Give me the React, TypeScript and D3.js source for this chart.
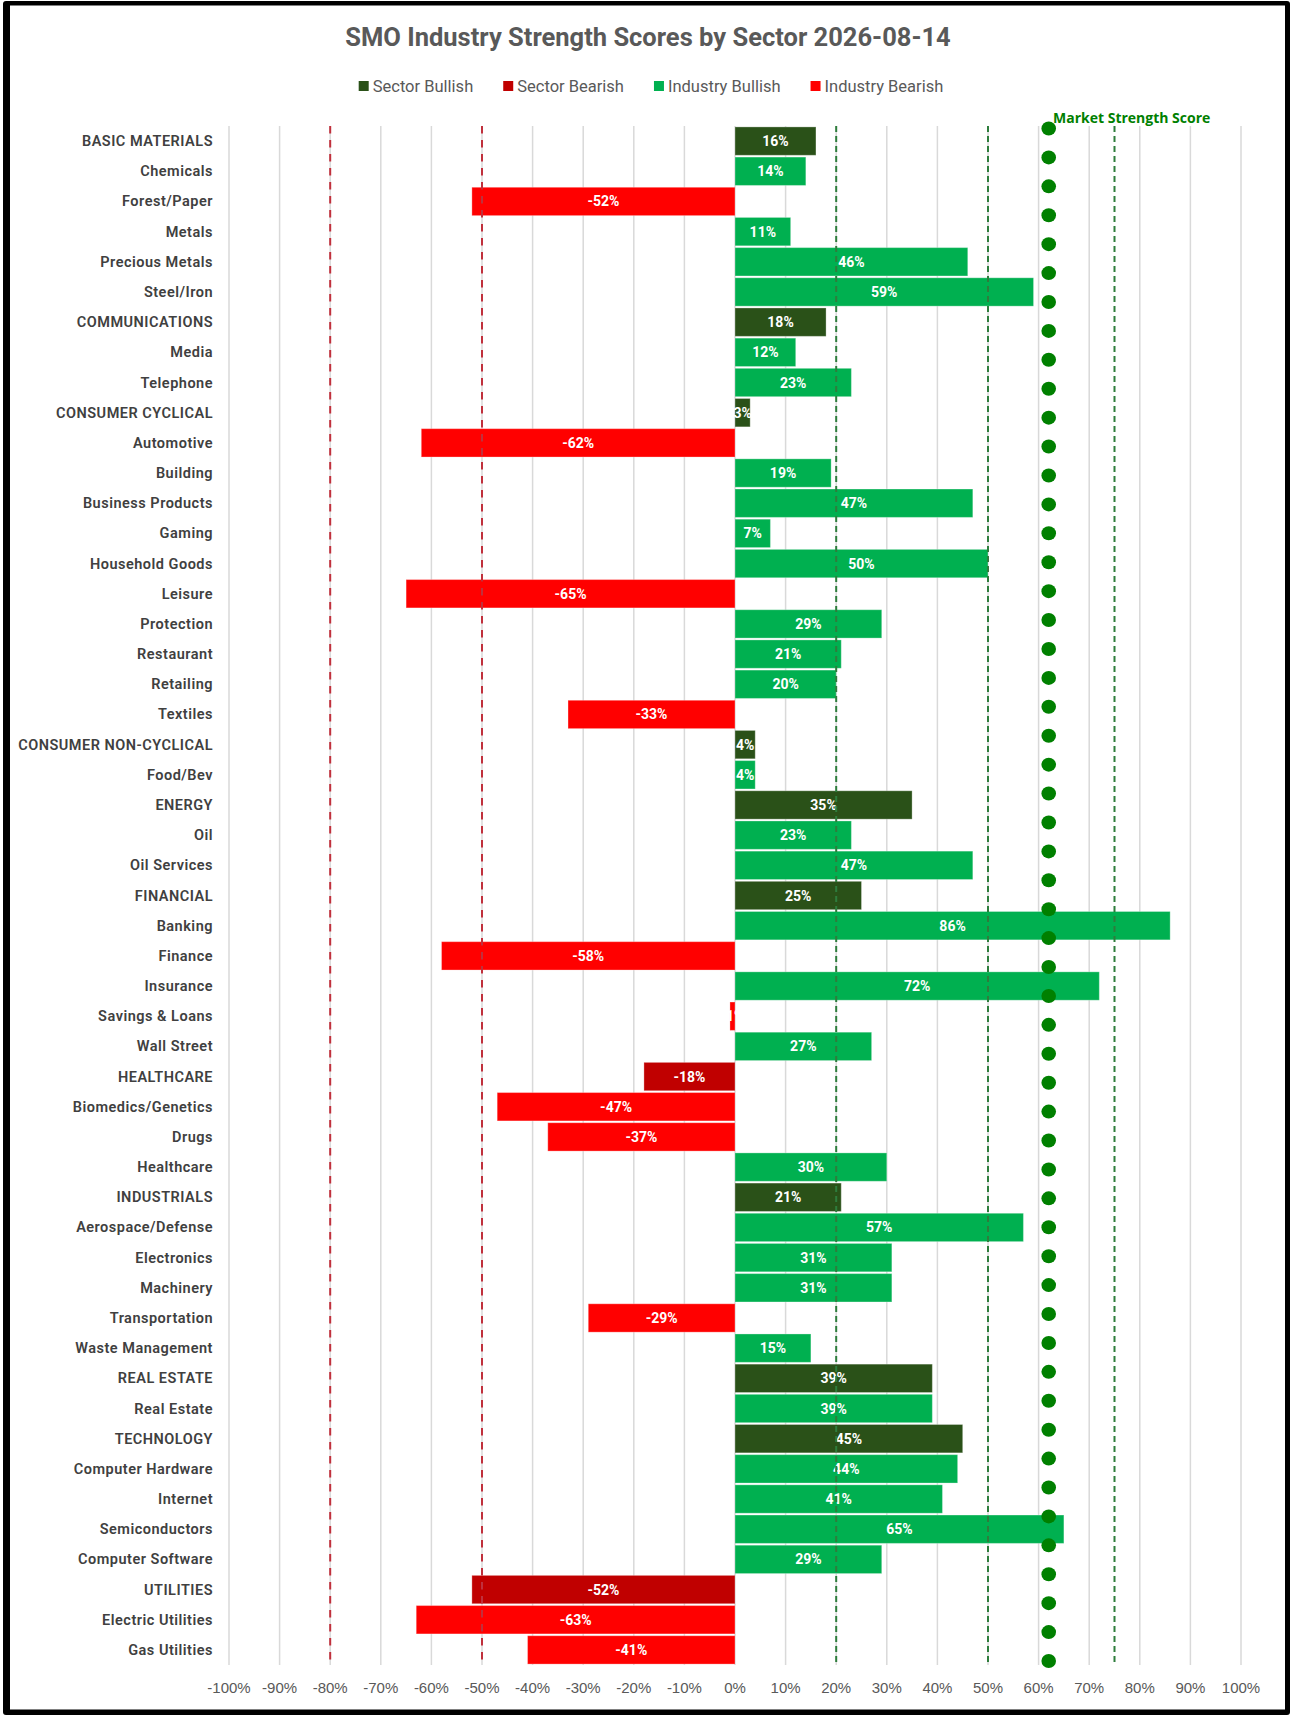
import React, { useEffect, useRef } from 'react';
import * as d3 from 'd3';

const categories = [
  'BASIC MATERIALS', 'Chemicals', 'Forest/Paper', 'Metals', 'Precious Metals', 'Steel/Iron',
  'COMMUNICATIONS', 'Media', 'Telephone',
  'CONSUMER CYCLICAL', 'Automotive', 'Building', 'Business Products', 'Gaming', 'Household Goods',
  'Leisure', 'Protection', 'Restaurant', 'Retailing', 'Textiles',
  'CONSUMER NON-CYCLICAL', 'Food/Bev',
  'ENERGY', 'Oil', 'Oil Services',
  'FINANCIAL', 'Banking', 'Finance', 'Insurance', 'Savings & Loans', 'Wall Street',
  'HEALTHCARE', 'Biomedics/Genetics', 'Drugs', 'Healthcare',
  'INDUSTRIALS', 'Aerospace/Defense', 'Electronics', 'Machinery', 'Transportation', 'Waste Management',
  'REAL ESTATE', 'Real Estate',
  'TECHNOLOGY', 'Computer Hardware', 'Internet', 'Semiconductors', 'Computer Software',
  'UTILITIES', 'Electric Utilities', 'Gas Utilities',
];

// scores in percent, same order as categories
const scores = [
  16, 14, -52, 11, 46, 59,
  18, 12, 23,
  3, -62, 19, 47, 7, 50, -65, 29, 21, 20, -33,
  4, 4,
  35, 23, 47,
  25, 86, -58, 72, -1, 27,
  -18, -47, -37, 30,
  21, 57, 31, 31, -29, 15,
  39, 39,
  45, 44, 41, 65, 29,
  -52, -63, -41,
];

const legendNames = ['Sector Bullish', 'Sector Bearish', 'Industry Bullish', 'Industry Bearish'];
const legendColors = ['#2A5118', '#C00000', '#00B050', '#FF0000'];

const xTicks = [-1, -0.9, -0.8, -0.7, -0.6, -0.5, -0.4, -0.3, -0.2, -0.1, 0, 0.1, 0.2, 0.3, 0.4, 0.5, 0.6, 0.7, 0.8, 0.9, 1];
const bearLines = [-0.8, -0.5];
const bullLines = [0.2, 0.5, 0.75];

const marketScore = 0.62;
const marketPoints = d3.range(54); // dot index along the secondary axis

const W = 1294;
const H = 1718;

// excel style: plain hyphen for negatives
const pct = d3.formatLocale({
  decimal: '.', thousands: ',', grouping: [3], currency: ['', ''], minus: '-',
}).format('.0%');

const App: React.FC = () => {
  const svgRef = useRef<SVGSVGElement>(null);

  useEffect(() => {
    if (!svgRef.current) return;
    const svg = d3.select(svgRef.current);
    svg.selectAll('*').remove();

    // frame
    svg.append('rect').attr('x', 3).attr('y', 1).attr('width', 1287).attr('height', 1714)
      .attr('rx', 3).attr('fill', '#000');
    svg.append('rect').attr('x', 10).attr('y', 5.5).attr('width', 1275).attr('height', 1704)
      .attr('fill', '#fff');

    const top = 126, bottom = 1665;
    const x = d3.scaleLinear().domain([-1, 1]).range([229, 1241]);
    const y = d3.scaleBand<string>().domain(categories).range([top, bottom])
      .paddingInner(0.06).paddingOuter(0.03);
    const yDots = d3.scaleLinear().domain([0, 53]).range([128.5, 1661]);

    // title
    svg.append('text')
      .attr('x', 648).attr('y', 46)
      .attr('text-anchor', 'middle')
      .style('font-family', 'Roboto, sans-serif')
      .style('font-weight', 700)
      .style('font-size', '25.5px')
      .attr('fill', '#595959')
      .text('SMO Industry Strength Scores by Sector 2026-08-14');

    // legend
    const legend = svg.append('g');
    const gap = 30;
    let lx = 0;
    legendNames.forEach((name, i) => {
      const item = legend.append('g').attr('transform', `translate(${lx},0)`);
      item.append('rect').attr('x', 0).attr('y', -5).attr('width', 10).attr('height', 10)
        .attr('fill', legendColors[i]);
      const t = item.append('text').attr('x', 14).attr('y', 6)
        .style('font-family', 'Roboto, sans-serif').style('font-size', '16.5px')
        .attr('fill', '#595959').text(name);
      const w = (t.node() as SVGTextElement).getComputedTextLength();
      lx += 14 + w + gap;
    });
    const legendW = lx - gap;
    legend.attr('transform', `translate(${651 - legendW / 2},86)`);

    // gridlines
    svg.append('g').selectAll('line').data(xTicks).enter().append('line')
      .attr('x1', d => x(d)).attr('x2', d => x(d))
      .attr('y1', top).attr('y2', bottom)
      .attr('stroke', '#D9D9D9').attr('stroke-width', 1.5);

    // category labels
    svg.append('g').selectAll('text').data(categories).enter().append('text')
      .attr('x', 213)
      .attr('y', d => (y(d) ?? 0) + y.bandwidth() / 2 + 5)
      .attr('text-anchor', 'end')
      .style('font-family', 'Roboto, sans-serif')
      .style('font-weight', 600)
      .style('font-size', '14.5px')
      .style('letter-spacing', '0.5px')
      .attr('fill', '#404040')
      .text(d => d);

    const isSector = (c: string) => c === c.toUpperCase();
    const colorFor = (c: string, v: number) =>
      isSector(c) ? (v >= 0 ? legendColors[0] : legendColors[1]) : (v >= 0 ? legendColors[2] : legendColors[3]);

    const rows = categories.map((c, i) => ({ c, v: scores[i] / 100 }));

    // bars
    svg.append('g').selectAll('rect').data(rows).enter().append('rect')
      .attr('x', d => x(Math.min(0, d.v)))
      .attr('y', d => y(d.c) ?? 0)
      .attr('width', d => Math.abs(x(d.v) - x(0)))
      .attr('height', y.bandwidth())
      .attr('fill', d => colorFor(d.c, d.v))
      .attr('stroke', '#ffffff').attr('stroke-opacity', 0.3).attr('stroke-width', 1);

    // bar labels
    svg.append('g').selectAll('text').data(rows).enter().append('text')
      .attr('x', d => (x(d.v) + x(0)) / 2)
      .attr('y', d => (y(d.c) ?? 0) + y.bandwidth() / 2 + 5)
      .attr('text-anchor', 'middle')
      .style('font-family', 'Roboto, sans-serif')
      .style('font-weight', 700)
      .style('font-size', '14px')
      .attr('fill', '#fff')
      .text(d => pct(d.v));

    // threshold lines
    svg.append('g').selectAll('line').data(bearLines).enter().append('line')
      .attr('x1', d => x(d)).attr('x2', d => x(d))
      .attr('y1', top).attr('y2', bottom)
      .attr('stroke', '#C0303C').attr('stroke-width', 2)
      .attr('stroke-dasharray', '7.5,6.5');
    svg.append('g').selectAll('line').data(bullLines).enter().append('line')
      .attr('x1', d => x(d)).attr('x2', d => x(d))
      .attr('y1', top).attr('y2', bottom)
      .attr('stroke', '#2E7D3C').attr('stroke-width', 2)
      .attr('stroke-dasharray', '6,4');

    // market strength dots
    svg.append('g').selectAll('ellipse').data(marketPoints).enter().append('ellipse')
      .attr('cx', x(marketScore))
      .attr('cy', d => yDots(d))
      .attr('rx', 7.3).attr('ry', 7)
      .attr('fill', '#008000');

    svg.append('text')
      .attr('x', 1053).attr('y', 123)
      .style('font-family', '"Open Sans", sans-serif')
      .style('font-weight', 700)
      .style('font-size', '14px')
      .attr('fill', '#008000')
      .text('Market Strength Score');

    // x axis tick labels
    svg.append('g').selectAll('text').data(xTicks).enter().append('text')
      .attr('x', d => x(d))
      .attr('y', 1693)
      .attr('text-anchor', 'middle')
      .style('font-family', '"Liberation Sans", Arial, sans-serif')
      .style('font-size', '15px')
      .attr('fill', '#595959')
      .text(d => pct(d));
  }, []);

  return (
    <div style={{ position: 'absolute', left: 0, top: 0, width: W, height: H, background: '#fff' }}>
      <svg ref={svgRef} width={W} height={H} />
    </div>
  );
};

export default App;
